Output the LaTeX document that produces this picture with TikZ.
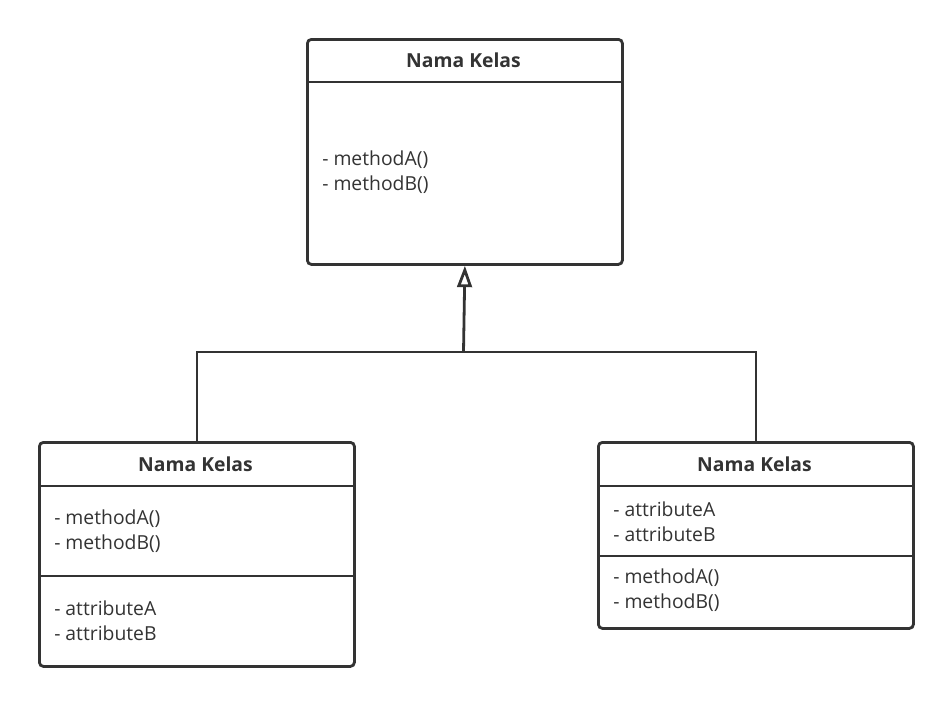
\documentclass[tikz,border=0pt]{standalone}
\usepackage{fontspec}
\setmainfont{Open Sans}
\usepackage{tikz}
\usepackage{xcolor}
\usetikzlibrary{arrows.meta,positioning,calc}
\definecolor{umlline}{HTML}{333333}

\begin{document}
\begin{tikzpicture}[x=0.75pt,y=-0.75pt,
    classbox/.style={draw=umlline,line width=2.1pt,rounded corners=3pt,
        anchor=north west,inner sep=0pt,minimum width=236.25pt},
    classname/.style={font=\bfseries\fontsize{14.5}{16}\selectfont,text=umlline},
    members/.style={anchor=west,align=left,inner sep=0pt,
        font=\fontsize{14.5}{18.75}\selectfont,text=umlline},
    divider/.style={draw=umlline,line width=2pt}]
  \useasboundingbox (0,0) rectangle (949,703);

  % parent class
  \node[classbox,minimum height=168.75pt] (base) at (306,38) {};
  \node[classname] (basename) at (463.5,60) {Nama Kelas};
  \draw[divider] (306,82) -- (621,82);
  \node[members] (basemeth) at (322,172.5) {- methodA()\\- methodB()};

  % left child
  \node[classbox,minimum height=168pt] (left) at (38,441) {};
  \node[classname] (leftname) at (195.5,464) {Nama Kelas};
  \draw[divider] (38,486) -- (353,486);
  \node[members] (leftmeth) at (54,531.5) {- methodA()\\- methodB()};
  \draw[divider] (38,576) -- (353,576);
  \node[members] (leftattr) at (54,620.5) {- attributeA\\- attributeB};

  % right child
  \node[classbox,minimum height=139.5pt] (right) at (597,441) {};
  \node[classname] (rightname) at (754.5,464) {Nama Kelas};
  \draw[divider] (597,486) -- (912,486);
  \node[members] (rightattr) at (613,522) {- attributeA\\- attributeB};
  \draw[divider] (597,556) -- (912,556);
  \node[members] (rightmeth) at (613,590.5) {- methodA()\\- methodB()};

  % generalisation
  \coordinate (join) at (463.5,352);
  \draw[umlline,line width=2.1pt] (left.north) |- (join) -| (right.north);
  \draw[umlline,line width=2.1pt,-{Triangle[open,length=16pt,width=11pt]}]
    (join) -- (base.south);
\end{tikzpicture}
\end{document}
